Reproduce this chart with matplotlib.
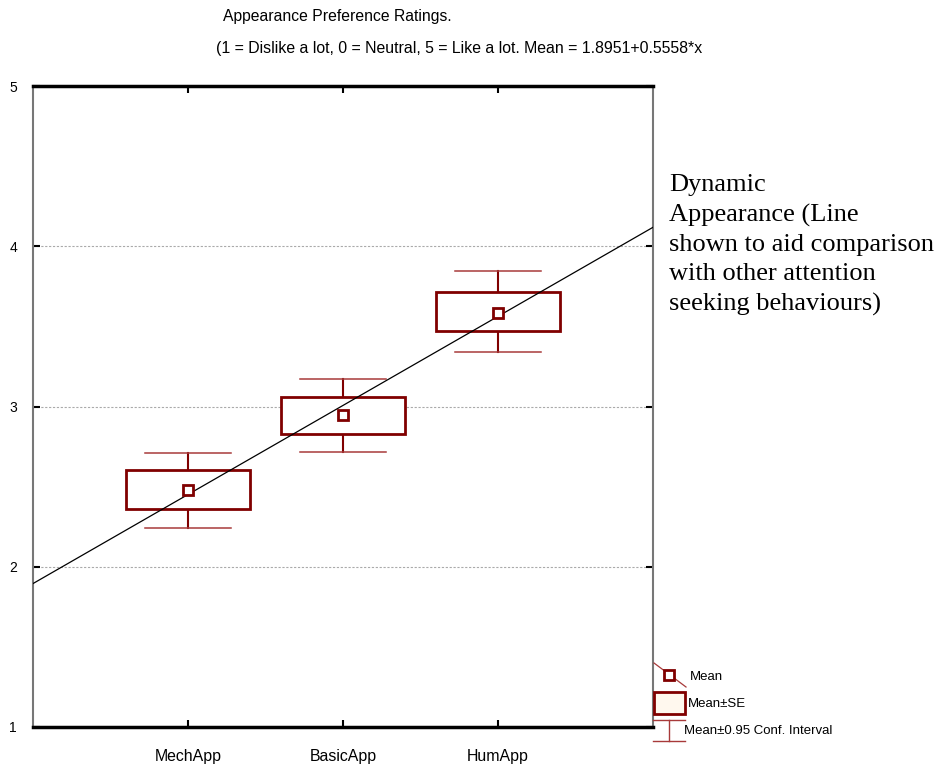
import numpy as np
import matplotlib
matplotlib.use("Agg")
import matplotlib.pyplot as plt
from matplotlib.patches import Rectangle
from matplotlib.lines import Line2D

# Ratings per appearance condition
categories = ["MechApp", "BasicApp", "HumApp"]
means = [2.48, 2.947, 3.583]
se_low = [2.36, 2.828, 3.471]
se_high = [2.604, 3.059, 3.714]
ci_low = [2.242, 2.716, 3.340]
ci_high = [2.71, 3.172, 3.846]

# Fitted trend line: Mean = intercept + slope * x
intercept = 1.8951
slope = 0.5558

y_ticks = [1, 2, 3, 4, 5]

DARK_RED = "#800000"
CAP_RED = "#a83a3a"

fig = plt.figure(figsize=(9.38, 7.65), dpi=100)
plt.rcParams["font.family"] = ["Liberation Sans", "DejaVu Sans"]
ax = fig.add_axes([33 / 938, 1 - 727 / 765, 620 / 938, 641 / 765])

ax.set_xlim(0, 4)
ax.set_ylim(1, 5)

# horizontal dotted gridlines
for yv in y_ticks[1:-1]:
    ax.axhline(yv, color="#aaaaaa", lw=0.8, ls=(0, (2, 1.5)), zorder=0)

box_half = 0.4
cap_half = 0.28
for i, cat in enumerate(categories):
    x = i + 1
    # whisker stems
    ax.plot([x, x], [se_high[i], ci_high[i]], color=DARK_RED, lw=1.5, zorder=2)
    ax.plot([x, x], [ci_low[i], se_low[i]], color=DARK_RED, lw=1.5, zorder=2)
    # caps
    ax.plot([x - cap_half, x + cap_half], [ci_high[i]] * 2, color=CAP_RED, lw=1.1, zorder=2)
    ax.plot([x - cap_half, x + cap_half], [ci_low[i]] * 2, color=CAP_RED, lw=1.1, zorder=2)
    # SE box
    ax.add_patch(Rectangle((x - box_half, se_low[i]), 2 * box_half,
                           se_high[i] - se_low[i], facecolor="white",
                           edgecolor=DARK_RED, lw=2, zorder=3))

# trend line
xl = np.array([0, 4])
ax.plot(xl, intercept + slope * xl, color="black", lw=0.9, zorder=4)

# mean markers
ax.plot(range(1, len(categories) + 1), means, ls="none", marker="s", ms=6.5,
        mfc="white", mec=DARK_RED, mew=2, zorder=5)

ax.set_yticks(y_ticks)
ax.set_yticklabels([str(v) for v in y_ticks], fontsize=10)
ax.set_xticks(range(1, len(categories) + 1))
ax.set_xticklabels(categories, fontsize=11.4)
ax.tick_params(axis="both", direction="in", length=5, width=1.5, color="black",
               top=True, right=True)
for t in ax.get_yticklabels():
    t.set_horizontalalignment("center")
ax.tick_params(axis="y", pad=14.4)
ax.tick_params(axis="x", pad=15.5)

ax.spines["top"].set_linewidth(2.5)
ax.spines["top"].set_color("black")
ax.spines["bottom"].set_linewidth(2.5)
ax.spines["bottom"].set_color("black")
ax.spines["left"].set_color("#777777")
ax.spines["left"].set_linewidth(1.5)
ax.spines["right"].set_color("#777777")
ax.spines["right"].set_linewidth(1.5)

# titles
fig.text(223 / 938, 1 - 16 / 765, "Appearance Preference Ratings.", fontsize=11.3,
         ha="left", va="center")
fig.text(216 / 938, 1 - 48 / 765,
         "(1 = Dislike a lot, 0 = Neutral, 5 = Like a lot. Mean = 1.8951+0.5558*x",
         fontsize=11.4, ha="left", va="center")

# annotation beside the plot
fig.text(669 / 938, 1 - 174 / 765,
         "Dynamic\nAppearance (Line\nshown to aid comparison\nwith other attention\nseeking behaviours)",
         fontsize=19, family=["Liberation Serif", "DejaVu Serif"], ha="left", va="top",
         linespacing=1.43)

# legend drawn in figure pixel coordinates
def px(x, y):
    return x / 938, 1 - y / 765

lx0, lx1 = 654, 685
fig.add_artist(Line2D(*zip(px(654, 663), px(686, 687)), color=CAP_RED, lw=0.9,
                      transform=fig.transFigure))
fig.add_artist(Line2D([px(669, 675)[0]], [px(669, 675)[1]], marker="s", ms=6.5,
                      mfc="white", mec=DARK_RED, mew=2, ls="none",
                      transform=fig.transFigure))
fig.text(*px(690, 677), "Mean", fontsize=9.5, ha="left", va="center")

bx, by = px(lx0, 714)
fig.add_artist(Rectangle((bx, by), (lx1 - lx0) / 938, 22 / 765,
                         facecolor="#fff8ee", edgecolor=DARK_RED, lw=2,
                         transform=fig.transFigure))
fig.text(*px(688, 704), "Mean\u00b1SE", fontsize=9.5, ha="left", va="center")

for yy in (720, 741):
    fig.add_artist(Line2D(*zip(px(653, yy), px(685, yy)), color=CAP_RED, lw=1,
                          transform=fig.transFigure))
fig.add_artist(Line2D(*zip(px(669, 720), px(669, 741)), color=CAP_RED, lw=1,
                      transform=fig.transFigure))
fig.text(*px(684, 731), "Mean\u00b10.95 Conf. Interval", fontsize=9.5, ha="left",
         va="center")

fig.savefig("out.png", dpi=100)
